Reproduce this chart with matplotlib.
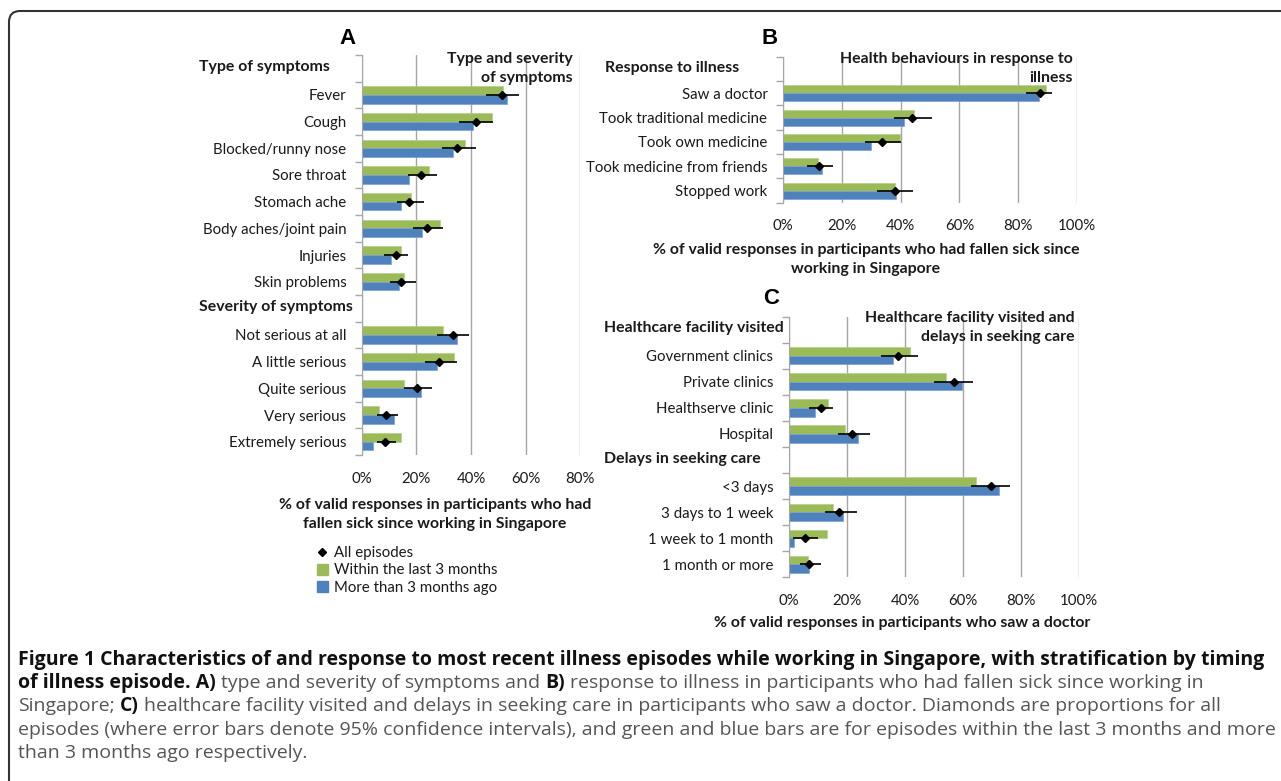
import numpy as np
import matplotlib
matplotlib.use('Agg')
import matplotlib.pyplot as plt
from matplotlib.lines import Line2D
from matplotlib.patches import Patch
from matplotlib.path import Path
from matplotlib.patches import PathPatch
from matplotlib.transforms import blended_transform_factory

plt.rcParams['font.family'] = ['Lato', 'DejaVu Sans']
plt.rcParams['font.size'] = 10.8

W, H = 1281, 781
GREEN = '#9BBB59'
BLUE = '#4F81BD'
GRID = '#A6A6A6'
TXT = '#1a1a1a'
BOLD_FS = 11.4

# ---- Panel A: type and severity of symptoms ----
a_type_labels = ['Fever', 'Cough', 'Blocked/runny nose', 'Sore throat', 'Stomach ache',
                 'Body aches/joint pain', 'Injuries', 'Skin problems']
a_type_recent = [51.8, 47.6, 37.8, 24.6, 18.0, 28.5, 14.4, 15.4]
a_type_older = [53.3, 40.6, 33.3, 17.4, 14.4, 22.1, 10.9, 13.7]
a_type_all = [51.5, 41.7, 35.0, 21.6, 17.3, 23.8, 12.4, 14.5]
a_type_lo = [45.4, 35.7, 29.5, 16.8, 12.9, 18.7, 8.3, 10.5]
a_type_hi = [57.7, 48.2, 41.7, 27.4, 22.8, 29.6, 16.8, 19.8]

a_sev_labels = ['Not serious at all', 'A little serious', 'Quite serious', 'Very serious',
                'Extremely serious']
a_sev_recent = [29.6, 33.9, 15.4, 6.2, 14.3]
a_sev_older = [34.8, 27.4, 21.6, 12.0, 4.3]
a_sev_all = [33.3, 28.4, 20.4, 8.9, 8.4]
a_sev_lo = [27.4, 23.3, 15.6, 5.6, 5.6]
a_sev_hi = [39.1, 34.8, 25.9, 13.2, 12.7]

# ---- Panel B: response to illness ----
b_labels = ['Saw a doctor', 'Took traditional medicine', 'Took own medicine',
            'Took medicine from friends', 'Stopped work']
b_recent = [89.4, 44.6, 39.9, 12.1, 38.1]
b_older = [86.9, 41.3, 30.0, 13.2, 38.5]
b_all = [87.3, 44.0, 33.8, 12.3, 38.1]
b_lo = [82.5, 37.9, 27.9, 8.4, 31.9]
b_hi = [91.3, 50.8, 40.0, 17.2, 44.3]

# ---- Panel C: healthcare facility and delays ----
c_fac_labels = ['Government clinics', 'Private clinics', 'Healthserve clinic', 'Hospital']
c_fac_recent = [41.9, 54.3, 13.6, 19.4]
c_fac_older = [36.0, 59.5, 9.1, 23.7]
c_fac_all = [37.7, 56.8, 11.0, 21.9]
c_fac_lo = [31.7, 50.1, 7.1, 16.8]
c_fac_hi = [44.6, 63.3, 15.4, 28.0]

c_del_labels = ['<3 days', '3 days to 1 week', '1 week to 1 month', '1 month or more']
c_del_recent = [64.6, 15.4, 13.1, 6.5]
c_del_older = [72.4, 18.8, 1.8, 7.0]
c_del_all = [69.6, 17.4, 5.6, 7.0]
c_del_lo = [62.9, 12.5, 1.6, 3.9]
c_del_hi = [76.1, 23.6, 10.2, 11.1]


def fx(px):
    return px / W


def fy(py):
    return 1 - py / H


def panel(fig, box, groups, xmax, header_x):
    left, top, right, bottom = box
    ax = fig.add_axes([fx(left), fy(bottom), fx(right - left), (bottom - top) / H])
    nrows = sum(1 + len(g[1]) for g in groups)
    h = 0.33
    tr = blended_transform_factory(fig.transFigure, ax.transData)
    row = 0
    label_pos, label_txt = [], []
    for header, labels, recent, older, allv, lo, hi in groups:
        ax.text(fx(header_x), row + 0.45, header, transform=tr, ha='left', va='center',
                fontweight='bold', fontsize=BOLD_FS, color=TXT)
        row += 1
        y = np.arange(row, row + len(labels)) + 0.5
        ax.barh(y - h / 2, recent, height=h, color=GREEN, edgecolor='#b5cf86', linewidth=0.5, zorder=2)
        ax.barh(y + h / 2, older, height=h, color=BLUE, edgecolor='#7aa0d4', linewidth=0.5, zorder=2)
        allv = np.array(allv)
        ax.errorbar(allv, y, xerr=[allv - np.array(lo), np.array(hi) - allv], fmt='D',
                    color='black', ms=4, elinewidth=1.2, capsize=0, zorder=3)
        label_pos += list(y)
        label_txt += labels
        row += len(labels)
    ax.set_xlim(0, xmax)
    ax.set_ylim(nrows, 0)
    ax.set_xticks(np.arange(0, xmax + 1, 20))
    ax.set_xticklabels([f'{v}%' for v in range(0, xmax + 1, 20)], color=TXT)
    ax.tick_params(axis='x', length=0, pad=12)
    ax.set_yticks(np.arange(nrows + 1))
    ax.set_yticklabels([])
    ax.set_yticks(label_pos, minor=True)
    ax.set_yticklabels(label_txt, minor=True, color=TXT)
    ax.tick_params(axis='y', which='major', length=5, color=GRID, width=1)
    ax.tick_params(axis='y', which='minor', length=0, pad=11)
    ax.xaxis.grid(True, color=GRID, linewidth=1)
    ax.set_axisbelow(True)
    for s in ['top', 'right', 'bottom']:
        ax.spines[s].set_visible(False)
    ax.spines['left'].set_color(GRID)
    return ax


fig = plt.figure(figsize=(W / 100, H / 100), dpi=100)

panel(fig, (361.7, 55, 580.3, 455),
      [('Type of symptoms', a_type_labels, a_type_recent, a_type_older, a_type_all, a_type_lo, a_type_hi),
       ('Severity of symptoms', a_sev_labels, a_sev_recent, a_sev_older, a_sev_all, a_sev_lo, a_sev_hi)],
      80, 199)
panel(fig, (782.7, 56.7, 1077.3, 202.7),
      [('Response to illness', b_labels, b_recent, b_older, b_all, b_lo, b_hi)],
      100, 605)
panel(fig, (788.7, 316.7, 1079.3, 577.3),
      [('Healthcare facility visited', c_fac_labels, c_fac_recent, c_fac_older, c_fac_all, c_fac_lo, c_fac_hi),
       ('Delays in seeking care', c_del_labels, c_del_recent, c_del_older, c_del_all, c_del_lo, c_del_hi)],
      100, 604)

# panel titles
title_kw = dict(va='center', fontweight='bold', fontsize=BOLD_FS, linespacing=1.5, color=TXT)
fig.text(fx(572.7), fy(68.7), 'Type and severity\nof symptoms', ha='right', **title_kw)
fig.text(fx(1073), fy(68.5), 'Health behaviours in response to\nillness', ha='right', **title_kw)
fig.text(fx(1075), fy(327.5), 'Healthcare facility visited and\ndelays in seeking care', ha='right', **title_kw)

# x axis titles
fig.text(fx(435), fy(514.5), '% of valid responses in participants who had\nfallen sick since working in Singapore',
         ha='center', **title_kw)
fig.text(fx(866), fy(259.5), '% of valid responses in participants who had fallen sick since\nworking in Singapore',
         ha='center', **title_kw)
fig.text(fx(901.7), fy(623.5), '% of valid responses in participants who saw a doctor',
         ha='center', **title_kw)

# panel letters
for letter, x, y in [('A', 347, 38), ('B', 770, 38), ('C', 771, 299)]:
    fig.text(fx(x), fy(y), letter, ha='center', va='center', fontsize=16, fontweight='bold',
             family='Liberation Sans', color='black')

# legend
handles = [Line2D([], [], marker='D', color='black', linestyle='none', markersize=4),
           Patch(color=GREEN), Patch(color=BLUE)]
fig.legend(handles, ['All episodes', 'Within the last 3 months', 'More than 3 months ago'],
           loc='upper left', bbox_to_anchor=(fx(316.5), fy(546)), frameon=False,
           handlelength=0.75, handleheight=0.75, handletextpad=0.4, labelspacing=0.22,
           borderpad=0, borderaxespad=0, labelcolor=TXT)

# frame around the figure
r = 11
verts = [(W, 11), (9 + r, 11), (9, 11), (9, 11 + r), (9, H)]
codes = [Path.MOVETO, Path.LINETO, Path.CURVE3, Path.CURVE3, Path.LINETO]
verts = [(fx(x), fy(y)) for x, y in verts]
fig.patches.append(PathPatch(Path(verts, codes), transform=fig.transFigure, fill=False,
                             edgecolor='#333333', linewidth=1.5))

# caption with mixed weights
renderer = fig.canvas.get_renderer()
CAP_FAMILY = ['Open Sans', 'DejaVu Sans']
BOLD_C = '#111111'
NORM_C = '#555555'
caption_lines = [
    [('Figure 1 Characteristics of and response to most recent illness episodes while working in Singapore, with stratification by timing', True)],
    [('of illness episode. A)', True), ('type and severity of symptoms and', False), ('B)', True),
     ('response to illness in participants who had fallen sick since working in', False)],
    [('Singapore;', False), ('C)', True),
     ('healthcare facility visited and delays in seeking care in participants who saw a doctor. Diamonds are proportions for all', False)],
    [('episodes (where error bars denote 95% confidence intervals), and green and blue bars are for episodes within the last 3 months and more', False)],
    [('than 3 months ago respectively.', False)],
]


def width_of(s, bold, fs):
    t = fig.text(0, 0, s, fontsize=fs, fontweight='bold' if bold else 'normal', family=CAP_FAMILY)
    w = t.get_window_extent(renderer).width
    t.remove()
    return w


# fit regular and bold sizes to the widths of the reference lines
norm_fs = 12 * 1244 / width_of(caption_lines[3][0][0], False, 12)
bold_fs = 12 * 1245 / width_of(caption_lines[0][0][0], True, 12)
space_w = width_of('a a', False, norm_fs) - width_of('aa', False, norm_fs)

for i, parts in enumerate(caption_lines):
    x = 18
    y = 665 + i * 23.2
    for text, bold in parts:
        t = fig.text(fx(x), fy(y), text, fontsize=bold_fs if bold else norm_fs,
                     fontweight='bold' if bold else 'normal', family=CAP_FAMILY,
                     color=BOLD_C if bold else NORM_C, ha='left', va='baseline')
        x += t.get_window_extent(renderer).width + space_w

fig.savefig('out.png', dpi=100)
